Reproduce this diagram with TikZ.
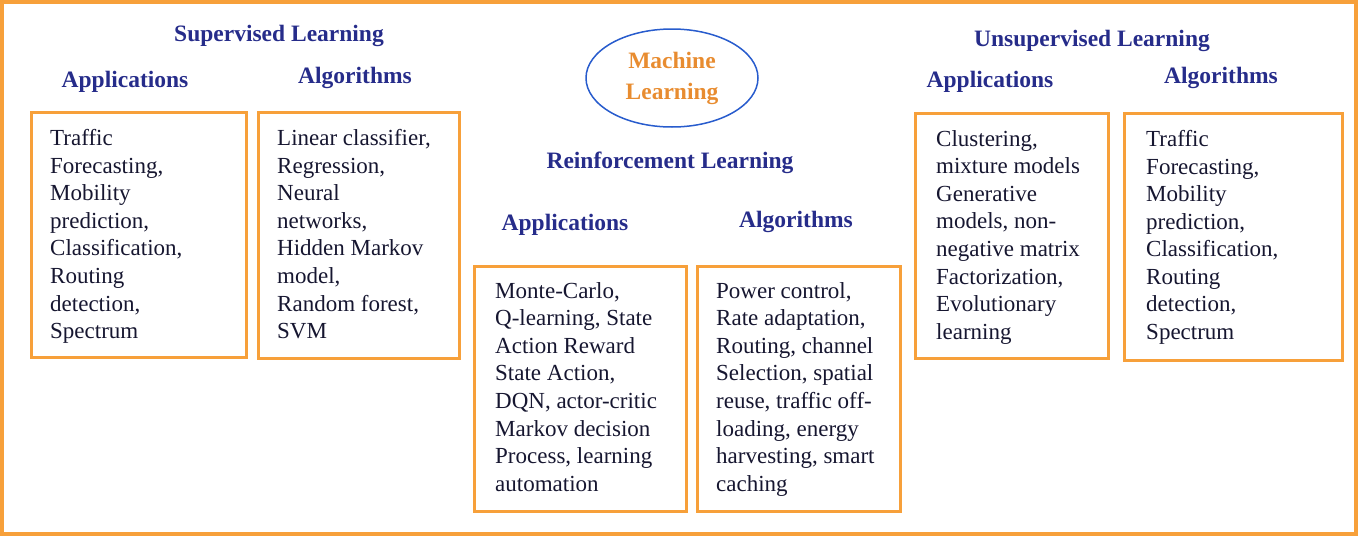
\documentclass[tikz,border=0pt]{standalone}
\usepackage{fontspec}
\setmainfont{Liberation Serif}
\usetikzlibrary{positioning,shapes.geometric}
\definecolor{boxorange}{RGB}{247,160,58}
\definecolor{headblue}{RGB}{38,44,138}
\definecolor{bodyink}{RGB}{22,22,48}
\definecolor{ellblue}{RGB}{40,92,205}
\definecolor{mltext}{RGB}{232,140,48}

\begin{document}
\begin{tikzpicture}[x=1pt,y=-1pt,
box/.style={draw=boxorange,line width=3pt,rectangle,outer sep=0pt,anchor=north west},
body/.style={anchor=north west,align=left,inner sep=0pt,text=bodyink,
  font=\fontsize{23}{27.6}\selectfont},
head/.style={anchor=base,inner sep=0pt,text=headblue,font=\bfseries\fontsize{23.5}{26}\selectfont}]

\useasboundingbox (0,0) rectangle (1358,536);
\draw[boxorange,line width=4pt] (2,2) rectangle (1356,534);

% machine learning
\node [ellipse,draw=ellblue,line width=1.5pt,minimum width=172pt,minimum height=98pt,
  align=center,text=mltext,font=\bfseries\fontsize{23.5}{31}\selectfont] (ml) at (672,78) {Machine\\Learning};

% supervised learning
\node [head] (sl) at (279,41) {Supervised Learning};
\node [head] (slapphead) at (125,87) {Applications};
\node [head] (slalghead) at (355,83) {Algorithms};
\node [box,minimum width=215pt,minimum height=245pt] (slapp) at (31,112) {};
\node [box,minimum width=201pt,minimum height=246pt] (slalg) at (258,112) {};
\node [body] (slapptext) at ([xshift=19pt,yshift=-17pt]slapp.north west)
  {Traffic\\Forecasting,\\Mobility\\prediction,\\Classification,\\Routing\\detection,\\Spectrum};
\node [body] (slalgtext) at ([xshift=19pt,yshift=-17pt]slalg.north west)
  {Linear classifier,\\Regression,\\Neural\\networks,\\Hidden Markov\\model,\\Random forest,\\SVM};

% reinforcement learning
\node [head] (rl) at (670,168) {Reinforcement Learning};
\node [head] (rlapphead) at (565,230) {Applications};
\node [head] (rlalghead) at (796,227) {Algorithms};
\node [box,minimum width=212pt,minimum height=245pt] (rlapp) at (474,266) {};
\node [box,minimum width=203pt,minimum height=245pt] (rlalg) at (697,266) {};
\node [body] (rlapptext) at ([xshift=21pt,yshift=-16pt]rlapp.north west)
  {Monte-Carlo,\\Q-learning, State\\Action Reward\\State Action,\\DQN, actor-critic\\Markov decision\\Process, learning\\automation};
\node [body] (rlalgtext) at ([xshift=19pt,yshift=-16pt]rlalg.north west)
  {Power control,\\Rate adaptation,\\Routing, channel\\Selection, spatial\\reuse, traffic off-\\loading, energy\\harvesting, smart\\caching};

% unsupervised learning
\node [head] (ul) at (1092,46) {Unsupervised Learning};
\node [head] (ulapphead) at (990,87) {Applications};
\node [head] (ulalghead) at (1221,83) {Algorithms};
\node [box,minimum width=193pt,minimum height=245pt] (ulapp) at (915,113) {};
\node [box,minimum width=218pt,minimum height=247pt] (ulalg) at (1124,113) {};
\node [body] (ulapptext) at ([xshift=21pt,yshift=-17pt]ulapp.north west)
  {Clustering,\\mixture models\\Generative\\models, non-\\negative matrix\\Factorization,\\Evolutionary\\learning};
\node [body] (ulalgtext) at ([xshift=22pt,yshift=-17pt]ulalg.north west)
  {Traffic\\Forecasting,\\Mobility\\prediction,\\Classification,\\Routing\\detection,\\Spectrum};
\end{tikzpicture}
\end{document}
